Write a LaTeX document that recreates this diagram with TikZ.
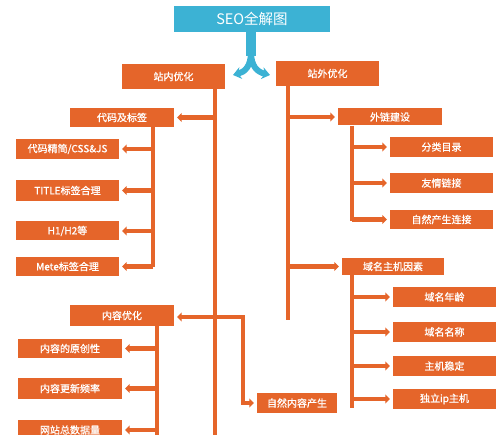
\documentclass[tikz,border=0pt]{standalone}
\usepackage{fontspec}
\newfontfamily\cjk[FakeBold=1]{Noto Sans CJK SC}
\newfontfamily\cjkt{Noto Sans CJK SC}
\usetikzlibrary{arrows.meta}
\definecolor{org}{HTML}{E5652A}
\definecolor{cy}{HTML}{3CB2D4}
\tikzset{
  box/.style={fill=org, text=white, inner sep=0pt, minimum width=103pt, minimum height=20pt, font=\cjk\fontsize{10}{11}\selectfont},
  trunk/.style={draw=org, line width=4.5pt},
  arr/.style={draw=org, line width=4.5pt, -{Triangle[width=9pt,length=4.5pt]}, shorten >=3pt},
  barr/.style={draw=org, line width=4.5pt, {Triangle[width=9pt,length=4.5pt]}-{Triangle[width=9pt,length=4.5pt]}, shorten >=3pt, shorten <=3pt},
  bluearm/.style={cy, line width=6pt, -{Stealth[length=8pt,width=12pt]}},
}
\begin{document}
\begin{tikzpicture}[x=1pt,y=-1pt]
\clip (0,0) rectangle (500,435);
% title
\node[fill=cy, text=white, minimum width=156pt, minimum height=26pt, inner sep=0pt, font=\cjkt\fontsize{14.5}{15}\selectfont] (title) at (252,19) {SEO全解图};
% level 1
\node[box, minimum height=25pt] (zn) at (173.5,76.5) {站内优化};
\node[box, minimum height=25pt] (zw) at (327.5,73.5) {站外优化};
% blue split arrow
\coordinate (split) at (251,56);
\draw[cy, line width=10pt] (title.south -| split) -- (split);
\draw[bluearm] (251,52) .. controls (251,66) and (245,72) .. (233,75);
\draw[bluearm] (251,52) .. controls (251,66) and (257,72) .. (270,75);
% left side
\node[box, minimum width=104pt, minimum height=19pt] (dm) at (122,117.5) {代码及标签};
\node[box] (c1) at (67.5,149) {代码精简/CSS\&JS};
\node[box, minimum height=21pt] (c2) at (67.5,190.5) {TITLE标签合理};
\node[box, minimum height=19pt] (c3) at (67.5,231) {H1/H2等};
\node[box, minimum height=19pt] (c4) at (67.5,266.5) {Mete标签合理};
\node[box, minimum width=104pt, minimum height=21pt] (nr) at (122,315.5) {内容优化};
\node[box, minimum width=104pt, minimum height=19pt] (n1) at (70,348.5) {内容的原创性};
\node[box, minimum width=104pt, minimum height=21pt] (n2) at (70,388.5) {内容更新频率};
\node[box, minimum width=104pt] (n3) at (70,430) {网站总数据量};
\node[box, minimum width=80pt] (zr) at (297,403) {自然内容产生};
% right side
\node[box, minimum width=104pt, minimum height=17pt] (wl) at (390,117) {外链建设};
\node[box] (w1) at (441.5,147) {分类目录};
\node[box] (w2) at (441.5,183) {友情链接};
\node[box, minimum height=19pt] (w3) at (441.5,219.5) {自然产生连接};
\node[box, minimum width=102pt, minimum height=17pt] (ym) at (393,266.5) {域名主机因素};
\node[box] (y1) at (444.5,297) {域名年龄};
\node[box] (y2) at (444.5,332) {域名名称};
\node[box] (y3) at (444.5,366) {主机稳定};
\node[box] (y4) at (444.5,399) {独立ip主机};
% coordinates
\coordinate (Lb) at (215,436);
\coordinate (Db) at (153,267);
\coordinate (Nb) at (157,436);
\coordinate (Rb) at (288,320);
\coordinate (Wb) at (352,221);
\coordinate (Yb) at (352,408);
\coordinate (Nk) at (243,317);
% trunks
\draw[trunk] (zn.south -| Lb) -- (Lb);
\draw[trunk] (dm.south -| Db) -- (Db);
\draw[trunk] (nr.south -| Nb) -- (Nb);
\draw[trunk] (zw.south -| Rb) -- (Rb);
\draw[trunk] (wl.south -| Wb) -- (Wb);
\draw[trunk] (ym.south -| Yb) -- (Yb);
% branches
\draw[arr] (Lb |- dm.east) -- (dm.east);
\foreach \n in {c1,c2,c3,c4} \draw[arr] (Db |- \n.east) -- (\n.east);
\foreach \n in {n1,n2,n3} \draw[arr] (Nb |- \n.east) -- (\n.east);
\draw[barr] (nr.east |- Nk) -- (Nk) |- (zr.west);
\draw[arr] (Rb |- wl.west) -- (wl.west);
\draw[arr] (Rb |- ym.west) -- (ym.west);
\foreach \n in {w1,w2,w3} \draw[arr] (Wb |- \n.west) -- (\n.west);
\foreach \n in {y1,y2,y3,y4} \draw[arr] (Yb |- \n.west) -- (\n.west);
\end{tikzpicture}
\end{document}
